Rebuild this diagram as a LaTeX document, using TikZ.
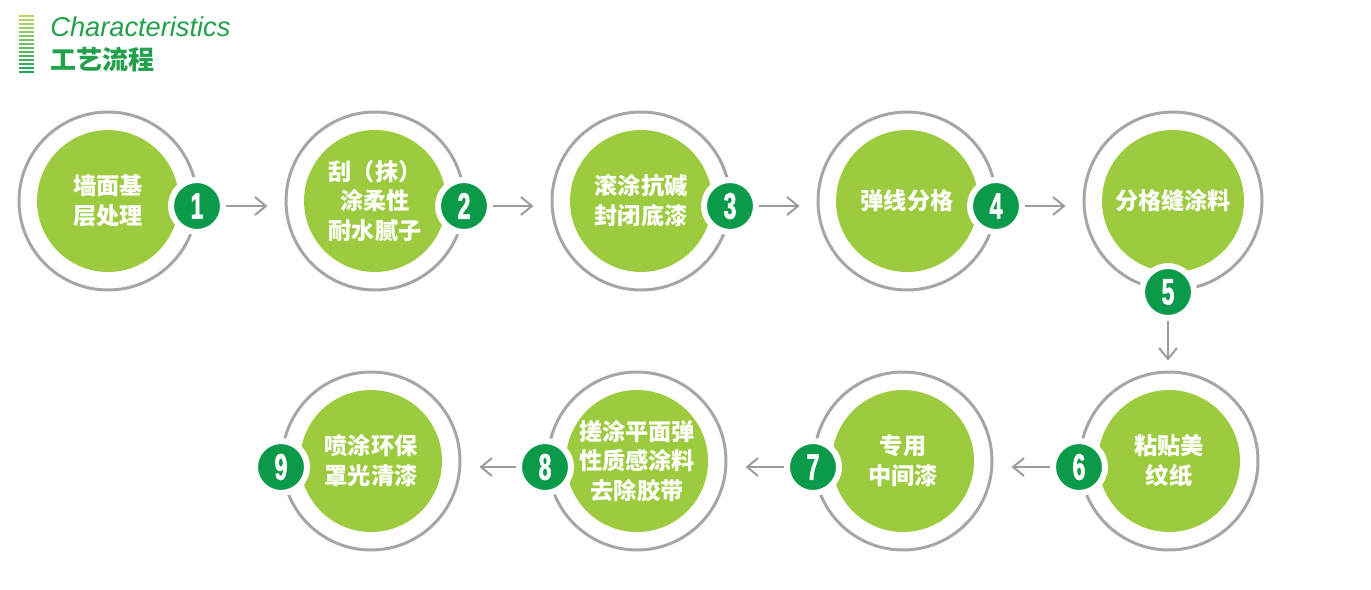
\documentclass[tikz,border=0pt]{standalone}
\usepackage{fontspec}
\usepackage{tikz}
\usetikzlibrary{arrows.meta}
\setmainfont{Liberation Sans}
\newfontfamily\cjk{Noto Sans CJK SC}
\newfontfamily\numfont{Liberation Sans Bold}[FakeStretch=0.62, FakeBold=1.6]
\definecolor{leaf}{HTML}{9DCB40}
\definecolor{badgegreen}{HTML}{0A9A4A}
\definecolor{ringgray}{HTML}{A6A6A6}
\definecolor{arrowgray}{HTML}{9C9C9C}
\definecolor{titlegreen}{HTML}{22A04B}
\definecolor{stripetop}{HTML}{BBD862}
\definecolor{stripebottom}{HTML}{1FA55A}

\begin{document}
\begin{tikzpicture}[x=0.02cm, y=-0.02cm,
        >={Straight Barb[length=0.22cm,width=0.36cm]},
        ring/.style={circle, draw=ringgray, line width=0.06cm, minimum size=3.56cm, inner sep=0pt},
        disc/.style={circle, fill=leaf, minimum size=2.84cm, inner sep=0pt, text=white,
            align=center, font=\cjk\bfseries\fontsize{13.2}{17}\selectfont},
        badge/.style={circle, fill=badgegreen, draw=white, line width=0.12cm, minimum size=1.04cm,
            inner sep=0pt, text=white, font=\numfont\fontsize{21}{21}\selectfont},
        flow/.style={->, draw=arrowgray, line width=0.04cm}]
        \useasboundingbox (0,0) rectangle (1371,589);

        % title
        \foreach \i in {0,...,14} {
            \pgfmathsetmacro\m{100*\i/14}
            \draw[line width=0.035cm, color=stripebottom!\m!stripetop] (19,16+4*\i) -- (34,16+4*\i);
        }
        \node[anchor=base west, inner sep=0pt, text=titlegreen, font=\itshape\fontsize{15.5}{15.5}\selectfont] (title) at (50,36) {Characteristics};
        \node[anchor=base west, inner sep=0pt, text=titlegreen, font=\cjk\bfseries\fontsize{14.8}{14.8}\selectfont] (subtitle) at (50,69) {工艺流程};

        % upper row
        \node[ring] (ring1) at (108,201) {};
        \node[ring] (ring2) at (375,201) {};
        \node[ring] (ring3) at (641,201) {};
        \node[ring] (ring4) at (907,201) {};
        \node[ring] (ring5) at (1173,201) {};
        \node[disc] (disc1) at (108,201) {墙面基\\层处理};
        \node[disc] (disc2) at (375,201) {刮（抹）\\涂柔性\\耐水腻子};
        \node[disc] (disc3) at (641,201) {滚涂抗碱\\封闭底漆};
        \node[disc] (disc4) at (907,201) {弹线分格};
        \node[disc] (disc5) at (1173,201) {分格缝涂料};
        \node[badge] (badge1) at (197,206) {1};
        \node[badge] (badge2) at (464,206) {2};
        \node[badge] (badge3) at (730,206) {3};
        \node[badge] (badge4) at (996,206) {4};
        \node[badge] (badge5) at (1168,292) {5};

        % lower row
        \node[ring] (ring6) at (1169,461) {};
        \node[ring] (ring7) at (903,461) {};
        \node[ring] (ring8) at (637,461) {};
        \node[ring] (ring9) at (371,461) {};
        \node[disc] (disc6) at (1169,461) {粘贴美\\纹纸};
        \node[disc] (disc7) at (903,461) {专用\\中间漆};
        \node[disc] (disc8) at (637,461) {搓涂平面弹\\性质感涂料\\去除胶带};
        \node[disc] (disc9) at (371,461) {喷涂环保\\罩光清漆};
        \node[badge] (badge6) at (1079,467) {6};
        \node[badge] (badge7) at (813,467) {7};
        \node[badge] (badge8) at (545,467) {8};
        \node[badge] (badge9) at (281,467) {9};

        % arrows
        \draw[flow, shorten >=0.34cm] (badge1) -- (badge1 -| ring2.west);
        \draw[flow, shorten >=0.34cm] (badge2) -- (badge2 -| ring3.west);
        \draw[flow, shorten >=0.34cm] (badge3) -- (badge3 -| ring4.west);
        \draw[flow, shorten >=0.34cm] (badge4) -- (badge4 -| ring5.west);
        \draw[flow, shorten >=0.2cm] (badge5) -- (badge5 |- ring6.north);
        \draw[flow, shorten >=0.36cm] (badge6) -- (badge6 -| ring7.east);
        \draw[flow, shorten >=0.36cm] (badge7) -- (badge7 -| ring8.east);
        \draw[flow, shorten >=0.36cm] (badge8) -- (badge8 -| ring9.east);
    \end{tikzpicture}
\end{document}
